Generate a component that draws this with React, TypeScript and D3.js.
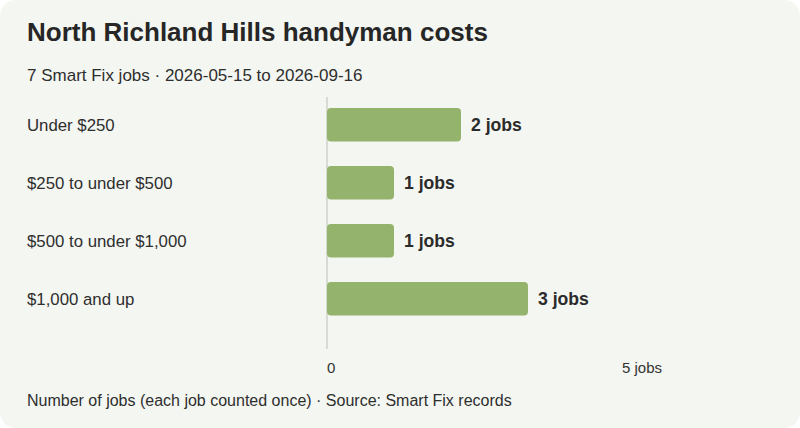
import React from 'react';
import * as d3 from 'd3';

const categories = ['Under $250', '$250 to under $500', '$500 to under $1,000', '$1,000 and up'];
const jobCounts = [2, 1, 1, 3];
const tickValues = [0, 5];
const tickLabels = ['0', '5 jobs'];

const W = 800;
const H = 428;
const FONT = '"Liberation Sans", Arial, Helvetica, sans-serif';

export default function App() {
  const x = d3.scaleLinear().domain([0, 5]).range([327, 662]);
  const y = d3.scaleBand<string>().domain(categories).range([96.4, 327.1]).paddingInner(0.422).paddingOuter(0.2);

  return (
    <svg width={W} height={H} viewBox={`0 0 ${W} ${H}`} style={{ display: 'block', position: 'absolute', left: 0, top: 0, fontFamily: FONT }}>
      <rect x={0} y={0} width={W} height={H} fill="#ffffff" />
      <rect x={0} y={0} width={W} height={H} rx={16} fill="#f4f6f1" />
      <text x={27} y={41} fontSize={26} fontWeight={700} fill="#262626">North Richland Hills handyman costs</text>
      <text x={27} y={81} fontSize={17} fill="#2e2e2e">7 Smart Fix jobs · 2026-05-15 to 2026-09-16</text>

      <line x1={x(0)} x2={x(0)} y1={97} y2={349} stroke="#cfd2c8" strokeWidth={1.5} />

      {categories.map((c, i) => {
        const yy = y(c)!;
        const bh = y.bandwidth();
        return (
          <g key={c}>
            <text x={27} y={yy + bh / 2} dy="0.35em" fontSize={16.8} fill="#2e2e2e">{c}</text>
            <rect x={x(0)} y={yy} width={x(jobCounts[i]) - x(0)} height={bh} rx={4} fill="#94b36c" />
            <text x={x(jobCounts[i]) + 10} y={yy + bh / 2 + 0.5} dy="0.35em" fontSize={17.6} fontWeight={700} fill="#2b2b2b">
              {jobCounts[i]} jobs
            </text>
          </g>
        );
      })}

      {tickValues.map((t, i) => (
        <text key={t} x={x(t)} y={373} fontSize={15} fill="#333" textAnchor={i === 0 ? 'start' : 'end'}>{tickLabels[i]}</text>
      ))}

      <text x={27} y={406} fontSize={16} fill="#2e2e2e">Number of jobs (each job counted once) · Source: Smart Fix records</text>
    </svg>
  );
}
